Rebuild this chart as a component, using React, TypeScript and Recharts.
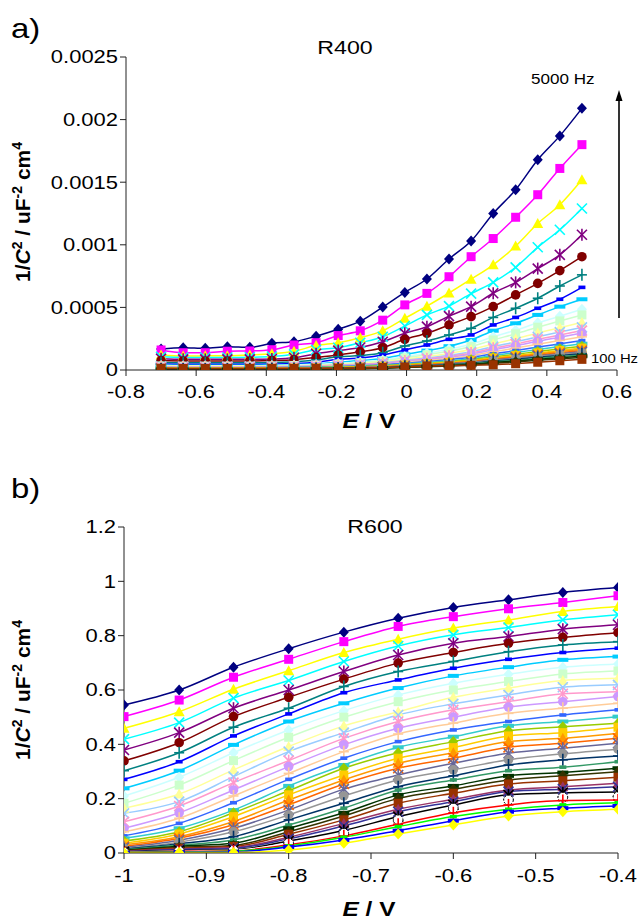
import React from 'react';
import { LineChart, Line, XAxis, YAxis } from 'recharts';

// Potential (V) for the R400 sweep
const E400 = [-0.7, -0.637, -0.574, -0.511, -0.447, -0.384, -0.321, -0.258, -0.195, -0.132, -0.068, -0.005, 0.058, 0.121, 0.184, 0.247, 0.311, 0.374, 0.437, 0.5];

// R400: 1/C^2 in units of 1e-4 uF^-2 cm^4, from 5000 Hz (first) down to 100 Hz (last)
const R400_1 = [1.68, 1.78, 1.73, 1.86, 1.81, 2.13, 2.26, 2.7, 3.25, 3.9, 5.03, 6.2, 7.27, 8.87, 10.3, 12.5, 14.4, 16.8, 18.7, 20.9];
const R400_2 = [1.6, 1.38, 1.38, 1.5, 1.52, 1.62, 2.0, 2.18, 2.75, 3.13, 3.98, 5.2, 6.12, 7.45, 9.05, 10.5, 12.2, 14.0, 16.1, 18.0];
const R400_3 = [1.2, 1.12, 1.13, 1.14, 1.2, 1.3, 1.5, 1.95, 2.18, 2.58, 3.14, 4.13, 5.1, 6.15, 7.25, 8.4, 9.9, 11.7, 13.2, 15.2];
const R400_4 = [1.05, 1.0, 1.0, 1.0, 1.02, 1.08, 1.25, 1.62, 1.78, 2.18, 2.66, 3.51, 4.4, 5.1, 6.1, 7.0, 8.2, 9.8, 11.2, 12.9];
const R400_5 = [0.9, 0.85, 0.85, 0.85, 0.85, 0.88, 0.98, 1.3, 1.55, 1.8, 2.26, 2.93, 3.46, 4.3, 5.06, 6.13, 7.0, 8.1, 9.2, 10.8];
const R400_6 = [0.75, 0.72, 0.72, 0.72, 0.72, 0.75, 0.82, 1.0, 1.2, 1.45, 1.78, 2.45, 2.93, 3.6, 4.26, 5.06, 6.0, 6.92, 7.94, 9.05];
const R400_7 = [0.6, 0.58, 0.58, 0.58, 0.58, 0.6, 0.65, 0.8, 1.06, 1.15, 1.38, 1.92, 2.32, 2.8, 3.33, 4.2, 4.93, 5.73, 6.71, 7.6];
const R400_8 = [0.48, 0.46, 0.46, 0.46, 0.46, 0.48, 0.52, 0.62, 0.85, 0.95, 1.2, 1.6, 2.0, 2.45, 2.8, 3.6, 4.2, 4.93, 5.65, 6.6];
const R400_9 = [0.4, 0.38, 0.38, 0.38, 0.38, 0.4, 0.43, 0.5, 0.62, 0.75, 0.92, 1.25, 1.55, 1.9, 2.4, 3.14, 3.73, 4.4, 5.06, 5.65];
const R400_10 = [0.35, 0.34, 0.34, 0.34, 0.34, 0.36, 0.4, 0.44, 0.53, 0.64, 0.8, 1.07, 1.34, 1.66, 2.06, 2.65, 3.18, 3.77, 4.3, 4.85];
const R400_11 = [0.32, 0.31, 0.31, 0.31, 0.31, 0.33, 0.36, 0.4, 0.48, 0.58, 0.73, 0.97, 1.22, 1.5, 1.87, 2.4, 2.89, 3.42, 3.92, 4.4];
const R400_12 = [0.3, 0.29, 0.29, 0.29, 0.29, 0.31, 0.34, 0.37, 0.44, 0.53, 0.65, 0.86, 1.07, 1.32, 1.63, 2.08, 2.5, 2.96, 3.38, 3.8];
const R400_13 = [0.27, 0.26, 0.26, 0.26, 0.27, 0.28, 0.3, 0.33, 0.4, 0.47, 0.58, 0.77, 0.96, 1.18, 1.46, 1.87, 2.24, 2.65, 3.03, 3.4];
const R400_14 = [0.25, 0.24, 0.24, 0.24, 0.25, 0.26, 0.28, 0.31, 0.37, 0.44, 0.54, 0.71, 0.89, 1.09, 1.35, 1.73, 2.08, 2.45, 2.8, 3.15];
const R400_15 = [0.23, 0.22, 0.22, 0.22, 0.23, 0.24, 0.26, 0.28, 0.34, 0.41, 0.5, 0.67, 0.83, 1.02, 1.26, 1.62, 1.94, 2.3, 2.62, 2.95];
const R400_16 = [0.21, 0.2, 0.2, 0.2, 0.21, 0.22, 0.23, 0.26, 0.31, 0.37, 0.45, 0.6, 0.75, 0.92, 1.14, 1.45, 1.75, 2.06, 2.36, 2.65];
const R400_17 = [0.19, 0.18, 0.18, 0.18, 0.19, 0.2, 0.21, 0.23, 0.28, 0.33, 0.41, 0.54, 0.67, 0.82, 1.01, 1.29, 1.55, 1.83, 2.09, 2.35];
const R400_18 = [0.17, 0.16, 0.16, 0.16, 0.17, 0.18, 0.19, 0.21, 0.25, 0.3, 0.36, 0.48, 0.6, 0.73, 0.9, 1.15, 1.39, 1.64, 1.87, 2.1];
const R400_19 = [0.15, 0.14, 0.14, 0.14, 0.15, 0.16, 0.17, 0.19, 0.22, 0.26, 0.33, 0.43, 0.54, 0.66, 0.82, 1.04, 1.25, 1.48, 1.69, 1.9];
const R400_20 = [0.14, 0.13, 0.13, 0.13, 0.14, 0.15, 0.16, 0.17, 0.2, 0.24, 0.3, 0.4, 0.49, 0.61, 0.75, 0.96, 1.15, 1.36, 1.56, 1.75];
const R400_21 = [0.12, 0.12, 0.12, 0.12, 0.12, 0.13, 0.14, 0.15, 0.18, 0.22, 0.27, 0.36, 0.46, 0.56, 0.7, 0.9, 1.08, 1.28, 1.47, 1.65];
const R400_22 = [0.11, 0.1, 0.1, 0.1, 0.11, 0.12, 0.13, 0.14, 0.17, 0.2, 0.25, 0.34, 0.43, 0.53, 0.66, 0.84, 1.02, 1.2, 1.38, 1.55];
const R400_23 = [0.1, 0.09, 0.09, 0.09, 0.1, 0.11, 0.12, 0.13, 0.15, 0.19, 0.24, 0.31, 0.4, 0.49, 0.61, 0.79, 0.95, 1.13, 1.29, 1.45];
const R400_24 = [0.09, 0.08, 0.08, 0.08, 0.09, 0.1, 0.1, 0.12, 0.14, 0.17, 0.22, 0.3, 0.37, 0.46, 0.58, 0.75, 0.9, 1.07, 1.23, 1.38];
const R400_25 = [0.08, 0.07, 0.07, 0.07, 0.08, 0.09, 0.09, 0.1, 0.13, 0.16, 0.2, 0.28, 0.35, 0.43, 0.54, 0.7, 0.85, 1.01, 1.16, 1.3];
const R400_26 = [0.07, 0.06, 0.06, 0.06, 0.07, 0.08, 0.08, 0.09, 0.11, 0.14, 0.18, 0.25, 0.32, 0.4, 0.5, 0.65, 0.78, 0.93, 1.07, 1.2];
const R400_27 = [0.05, 0.05, 0.05, 0.05, 0.05, 0.06, 0.06, 0.07, 0.09, 0.12, 0.16, 0.22, 0.28, 0.35, 0.45, 0.59, 0.71, 0.85, 0.97, 1.1];
const R400_28 = [0.04, 0.04, 0.04, 0.04, 0.04, 0.05, 0.05, 0.06, 0.08, 0.1, 0.14, 0.19, 0.25, 0.32, 0.4, 0.53, 0.65, 0.77, 0.89, 1.0];
const R400_29 = [0.13, 0.12, 0.12, 0.12, 0.12, 0.12, 0.12, 0.13, 0.14, 0.16, 0.2, 0.24, 0.32, 0.34, 0.37, 0.42, 0.5, 0.62, 0.74, 0.85];

const R400 = [R400_1, R400_2, R400_3, R400_4, R400_5, R400_6, R400_7, R400_8, R400_9, R400_10,
  R400_11, R400_12, R400_13, R400_14, R400_15, R400_16, R400_17, R400_18, R400_19, R400_20,
  R400_21, R400_22, R400_23, R400_24, R400_25, R400_26, R400_27, R400_28, R400_29];

// Potential (V) for the R600 sweep
const E600 = [-1, -0.933, -0.867, -0.8, -0.733, -0.667, -0.6, -0.533, -0.467, -0.4];

// R600: 1/C^2 in uF^-2 cm^4, highest frequency first
const R600_1 = [0.545, 0.6, 0.684, 0.752, 0.813, 0.864, 0.904, 0.932, 0.959, 0.977];
const R600_2 = [0.502, 0.563, 0.647, 0.713, 0.778, 0.834, 0.87, 0.899, 0.922, 0.947];
const R600_3 = [0.459, 0.52, 0.603, 0.671, 0.738, 0.787, 0.828, 0.858, 0.889, 0.907];
const R600_4 = [0.419, 0.48, 0.57, 0.635, 0.705, 0.762, 0.803, 0.83, 0.858, 0.877];
const R600_5 = [0.379, 0.443, 0.533, 0.6, 0.668, 0.729, 0.772, 0.797, 0.824, 0.84];
const R600_6 = [0.339, 0.406, 0.502, 0.573, 0.64, 0.699, 0.738, 0.772, 0.794, 0.811];
const R600_7 = [0.303, 0.369, 0.463, 0.533, 0.613, 0.668, 0.705, 0.741, 0.766, 0.778];
const R600_8 = [0.271, 0.336, 0.431, 0.512, 0.59, 0.637, 0.68, 0.713, 0.738, 0.754];
const R600_9 = [0.238, 0.303, 0.398, 0.484, 0.551, 0.607, 0.652, 0.684, 0.711, 0.723];
const R600_10 = [0.21, 0.279, 0.369, 0.453, 0.524, 0.582, 0.625, 0.658, 0.684, 0.696];
const R600_11 = [0.183, 0.25, 0.34, 0.426, 0.5, 0.557, 0.6, 0.631, 0.659, 0.67];
const R600_12 = [0.165, 0.217, 0.306, 0.392, 0.468, 0.52, 0.573, 0.607, 0.635, 0.643];
const R600_13 = [0.146, 0.189, 0.281, 0.373, 0.443, 0.508, 0.549, 0.582, 0.61, 0.619];
const R600_14 = [0.115, 0.173, 0.259, 0.34, 0.422, 0.484, 0.527, 0.557, 0.586, 0.594];
const R600_15 = [0.091, 0.148, 0.232, 0.318, 0.398, 0.459, 0.5, 0.537, 0.557, 0.576];
const R600_16 = [0.078, 0.128, 0.21, 0.293, 0.373, 0.438, 0.478, 0.514, 0.533, 0.551];
const R600_17 = [0.063, 0.109, 0.185, 0.271, 0.349, 0.41, 0.453, 0.484, 0.508, 0.527];
const R600_18 = [0.054, 0.091, 0.158, 0.247, 0.324, 0.389, 0.428, 0.468, 0.484, 0.502];
const R600_19 = [0.044, 0.078, 0.148, 0.229, 0.312, 0.369, 0.41, 0.45, 0.465, 0.478];
const R600_20 = [0.036, 0.07, 0.134, 0.214, 0.287, 0.349, 0.388, 0.431, 0.443, 0.463];
const R600_21 = [0.03, 0.06, 0.116, 0.195, 0.269, 0.33, 0.369, 0.41, 0.422, 0.441];
const R600_22 = [0.024, 0.054, 0.104, 0.177, 0.254, 0.312, 0.349, 0.389, 0.404, 0.422];
const R600_23 = [0.02, 0.047, 0.091, 0.158, 0.235, 0.287, 0.33, 0.367, 0.386, 0.404];
const R600_24 = [0.017, 0.04, 0.078, 0.14, 0.21, 0.269, 0.306, 0.343, 0.365, 0.382];
const R600_25 = [0.014, 0.034, 0.06, 0.122, 0.183, 0.244, 0.284, 0.324, 0.343, 0.357];
const R600_26 = [0.012, 0.029, 0.048, 0.103, 0.165, 0.232, 0.269, 0.303, 0.316, 0.336];
const R600_27 = [0.01, 0.025, 0.036, 0.091, 0.148, 0.214, 0.247, 0.284, 0.296, 0.312];
const R600_28 = [0.008, 0.021, 0.028, 0.078, 0.136, 0.201, 0.235, 0.269, 0.284, 0.299];
const R600_29 = [0.007, 0.018, 0.024, 0.069, 0.122, 0.183, 0.22, 0.254, 0.266, 0.279];
const R600_30 = [0.006, 0.015, 0.02, 0.058, 0.109, 0.161, 0.198, 0.232, 0.244, 0.257];
const R600_31 = [0.005, 0.013, 0.017, 0.052, 0.1, 0.152, 0.189, 0.226, 0.235, 0.244];
const R600_32 = [0.004, 0.009, 0.012, 0.044, 0.083, 0.134, 0.177, 0.214, 0.222, 0.225];
const R600_33 = [0.003, 0.007, 0.01, 0.036, 0.072, 0.122, 0.165, 0.195, 0.205, 0.207];
const R600_34 = [0.002, 0.006, 0.008, 0.03, 0.063, 0.106, 0.148, 0.177, 0.193, 0.195];
const R600_35 = [0.002, 0.004, 0.006, 0.026, 0.058, 0.097, 0.134, 0.161, 0.177, 0.185];
const R600_36 = [0.001, 0.003, 0.004, 0.022, 0.048, 0.082, 0.119, 0.152, 0.165, 0.173];
const R600_37 = [0.001, 0.002, 0.002, 0.011, 0.036, 0.07, 0.103, 0.136, 0.152, 0.161];

const R600 = [R600_1, R600_2, R600_3, R600_4, R600_5, R600_6, R600_7, R600_8, R600_9, R600_10,
  R600_11, R600_12, R600_13, R600_14, R600_15, R600_16, R600_17, R600_18, R600_19, R600_20,
  R600_21, R600_22, R600_23, R600_24, R600_25, R600_26, R600_27, R600_28, R600_29, R600_30,
  R600_31, R600_32, R600_33, R600_34, R600_35, R600_36, R600_37];

// Series colours and marker shapes, in plotting order
const COLORS = ['#000080', '#FF00FF', '#FFFF00', '#00FFFF', '#800080', '#800000', '#008080', '#0000FF', '#00CCFF',
  '#CCFFFF', '#CCFFCC', '#FFFF99', '#99CCFF', '#FF99CC', '#CC99FF', '#FFCC99', '#3366FF', '#33CCCC',
  '#99CC00', '#FFCC00', '#FF9900', '#FF6600', '#666699', '#969696', '#003366', '#339966', '#003300',
  '#333300', '#993300', '#993366', '#333399', '#000000', '#FFFFFF', '#FF0000', '#00FF00', '#0000FF', '#FFFF00'];
const SHAPES = ['diamond', 'square', 'triangle', 'x', 'star', 'circle', 'plus', 'dash', 'longdash'];

const X400_TICKS = [-0.8, -0.6, -0.4, -0.2, 0, 0.2, 0.4, 0.6];
const Y400_TICKS = [0, 0.0005, 0.001, 0.0015, 0.002, 0.0025];
const X600_TICKS = [-1, -0.9, -0.8, -0.7, -0.6, -0.5, -0.4];
const Y600_TICKS = [0, 0.2, 0.4, 0.6, 0.8, 1, 1.2];

const FONT = '"Liberation Sans", Arial, Helvetica, sans-serif';
const WIDEN = 1.22;

const data400 = E400.map((e, i) => {
  const row: Record<string, number> = { E: e };
  R400.forEach((s, k) => { row['s' + k] = s[i] * 1e-4; });
  return row;
});
const data600 = E600.map((e, i) => {
  const row: Record<string, number> = { E: e };
  R600.forEach((s, k) => { row['s' + k] = s[i]; });
  return row;
});

function Marker({ cx, cy, shape, color }: { cx: number; cy: number; shape: string; color: string }) {
  const white = color.toUpperCase() === '#FFFFFF';
  const edge = white ? '#000' : color;
  switch (shape) {
    case 'diamond':
      return <polygon points={`${cx},${cy - 5.5} ${cx + 5},${cy} ${cx},${cy + 5.5} ${cx - 5},${cy}`} fill={color} stroke={white ? '#000' : 'none'} />;
    case 'square':
      return <rect x={cx - 4.5} y={cy - 4.5} width={9} height={9} fill={color} stroke={white ? '#000' : 'none'} />;
    case 'triangle':
      return <polygon points={`${cx},${cy - 5.5} ${cx + 5.5},${cy + 4.5} ${cx - 5.5},${cy + 4.5}`} fill={color} />;
    case 'x':
      return (
        <g stroke={edge} strokeWidth={1.6}>
          <line x1={cx - 5} y1={cy - 5} x2={cx + 5} y2={cy + 5} />
          <line x1={cx - 5} y1={cy + 5} x2={cx + 5} y2={cy - 5} />
        </g>
      );
    case 'star':
      return (
        <g stroke={edge} strokeWidth={1.6}>
          <line x1={cx - 5} y1={cy - 5} x2={cx + 5} y2={cy + 5} />
          <line x1={cx - 5} y1={cy + 5} x2={cx + 5} y2={cy - 5} />
          <line x1={cx} y1={cy - 6} x2={cx} y2={cy + 6} />
        </g>
      );
    case 'circle':
      return <circle cx={cx} cy={cy} r={4.8} fill={color} stroke={white ? '#000' : 'none'} strokeDasharray={white ? '2 1.5' : undefined} />;
    case 'plus':
      return (
        <g stroke={edge} strokeWidth={1.6}>
          <line x1={cx - 5} y1={cy} x2={cx + 5} y2={cy} />
          <line x1={cx} y1={cy - 6} x2={cx} y2={cy + 6} />
        </g>
      );
    case 'dash':
      return <rect x={cx - 3.5} y={cy - 1.8} width={7} height={3.6} fill={color} />;
    default:
      return <rect x={cx - 5.5} y={cy - 2} width={11} height={4} fill={color} />;
  }
}

const dotFor = (k: number, tag: string) => (props: any) => {
  const { cx, cy, index } = props;
  if (cx == null || cy == null) return <g key={`${tag}${k}-${index}`} />;
  return (
    <g key={`${tag}${k}-${index}`}>
      <Marker cx={cx} cy={cy} shape={SHAPES[k % SHAPES.length]} color={COLORS[k]} />
    </g>
  );
};

// Text drawn slightly wide, like the rest of the figure's lettering
function WideText({ x, y, anchor, size, dy, weight, widen, children }: any) {
  return (
    <text
      transform={`translate(${x},${y}) scale(${widen || WIDEN},1)`}
      textAnchor={anchor || 'start'}
      dy={dy}
      fontFamily={FONT}
      fontSize={size}
      fontWeight={weight || 'normal'}
      fill="#000"
    >
      {children}
    </text>
  );
}

const fmt = (v: number) => String(v);
const xTick = (p: any) => (
  <WideText key={`xt-${p.payload.value}`} x={p.x} y={p.y} anchor="middle" size={18} dy="0.75em">{fmt(p.payload.value)}</WideText>
);
const yTick = (p: any) => (
  <WideText key={`yt-${p.payload.value}`} x={p.x} y={p.y} anchor="end" size={18} dy="0.36em">{fmt(p.payload.value)}</WideText>
);

function Superscripted({ x, y, rotate, size, parts }: { x: number; y: number; rotate?: boolean; size: number; parts: [string, 'n' | 'i' | 's'][] }) {
  const sup = Math.round(size * 0.65);
  const lift = Math.round(size * 0.4);
  return (
    <text
      transform={`translate(${x},${y})${rotate ? ' rotate(-90)' : ` scale(${WIDEN},1)`}`}
      textAnchor="middle"
      fontFamily={FONT}
      fontWeight="bold"
      fontSize={size}
      fill="#000"
    >
      {parts.map(([t, kind], i) => {
        const prev = i > 0 ? parts[i - 1][1] : 'n';
        const dy = kind === 's' && prev !== 's' ? -lift : kind !== 's' && prev === 's' ? lift : 0;
        return (
          <tspan key={i} dy={dy} fontSize={kind === 's' ? sup : size} fontStyle={kind === 'i' ? 'italic' : 'normal'}>
            {t}
          </tspan>
        );
      })}
    </text>
  );
}

export default function App() {
  return (
    <div style={{ position: 'absolute', left: 0, top: 0, width: 643, height: 919, background: '#fff', overflow: 'hidden' }}>
      <div style={{ position: 'absolute', left: 0, top: 0 }}>
        <LineChart width={643} height={440} data={data400} margin={{ top: 57, right: 26, left: 66, bottom: 40 }}>
          <XAxis
            dataKey="E"
            type="number"
            domain={[-0.8, 0.6]}
            ticks={X400_TICKS}
            tick={xTick}
            tickMargin={8}
            height={30}
            stroke="#222"
            allowDataOverflow
          />
          <YAxis
            type="number"
            domain={[0, 0.0025]}
            ticks={Y400_TICKS}
            tick={yTick}
            width={60}
            stroke="#222"
            allowDataOverflow
          />
          {R400.map((_, k) => (
            <Line
              key={k}
              dataKey={'s' + k}
              type="monotone"
              stroke={COLORS[k]}
              strokeWidth={1.5}
              dot={dotFor(k, 'a')}
              activeDot={false}
              isAnimationActive={false}
            />
          ))}
        </LineChart>
      </div>
      <div style={{ position: 'absolute', left: 0, top: 470 }}>
        <LineChart width={643} height={440} data={data600} margin={{ top: 57, right: 25, left: 64, bottom: 27 }}>
          <XAxis
            dataKey="E"
            type="number"
            domain={[-1, -0.4]}
            ticks={X600_TICKS}
            tick={xTick}
            tickMargin={9}
            height={30}
            stroke="#222"
            allowDataOverflow
          />
          <YAxis
            type="number"
            domain={[0, 1.2]}
            ticks={Y600_TICKS}
            tick={yTick}
            width={60}
            stroke="#222"
            allowDataOverflow
          />
          {R600.map((_, k) => (
            <Line
              key={k}
              dataKey={'s' + k}
              type="monotone"
              stroke={COLORS[k]}
              strokeWidth={1.5}
              dot={dotFor(k, 'b')}
              activeDot={false}
              isAnimationActive={false}
            />
          ))}
        </LineChart>
      </div>
      <svg width={643} height={919} style={{ position: 'absolute', left: 0, top: 0, pointerEvents: 'none' }}>
        <WideText x={11} y={38} size={27}>a)</WideText>
        <WideText x={345} y={54} anchor="middle" size={19}>R400</WideText>
        <WideText x={531} y={84} size={14}>5000 Hz</WideText>
        <line x1={619} y1={318} x2={619} y2={100} stroke="#000" strokeWidth={1.6} />
        <polygon points="619,90 615.5,101 622.5,101" fill="#000" />
        <WideText x={591} y={363} size={13.5} widen={1.1}>100 Hz</WideText>
        <Superscripted x={30} y={212} rotate size={21} parts={[['1/', 'n'], ['C', 'i'], ['2', 's'], [' /  uF', 'n'], ['-2', 's'], [' cm', 'n'], ['4', 's']]} />
        <Superscripted x={369} y={428} size={20} parts={[['E', 'i'], [' / V', 'n']]} />

        <WideText x={11} y={498} size={27}>b)</WideText>
        <WideText x={375} y={533} anchor="middle" size={19}>R600</WideText>
        <Superscripted x={30} y={690} rotate size={21} parts={[['1/', 'n'], ['C', 'i'], ['2', 's'], ['  / uF', 'n'], ['-2', 's'], [' cm', 'n'], ['4', 's']]} />
        <Superscripted x={369} y={916} size={20} parts={[['E', 'i'], [' / V', 'n']]} />
      </svg>
    </div>
  );
}
